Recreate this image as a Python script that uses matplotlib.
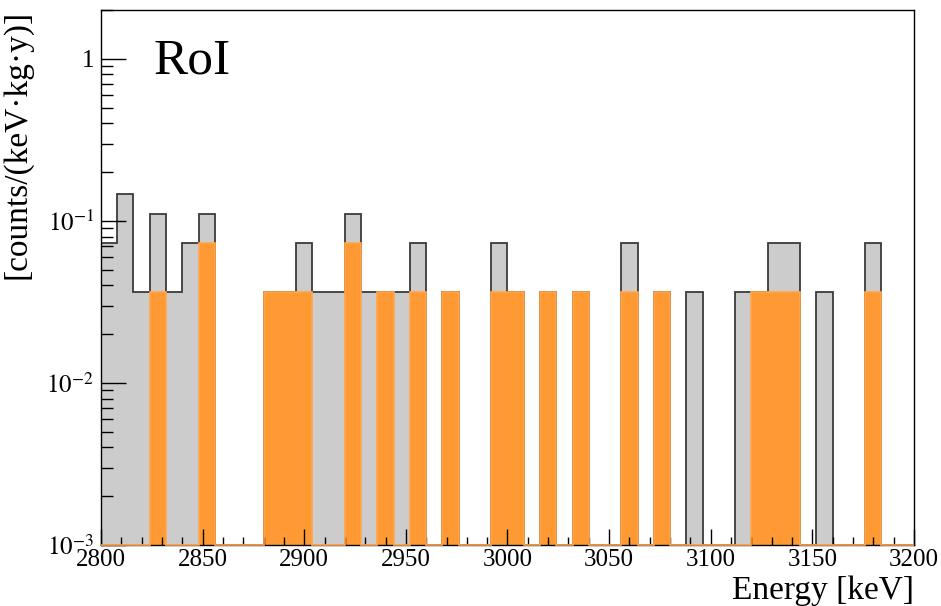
import numpy as np
import matplotlib
matplotlib.use("Agg")
import matplotlib.pyplot as plt
from matplotlib.ticker import FixedLocator, LogLocator, FuncFormatter, NullFormatter

plt.rcParams["font.family"] = ["Liberation Serif", "DejaVu Serif"]
plt.rcParams["mathtext.fontset"] = "stix"

# 8 keV bins over the region of interest
bin_edges = np.arange(2800, 3201, 8)
rate_per_count = 0.0366  # counts/(keV kg y) for a single event in a bin

# events per bin: all events (grey) and the selected subset (orange)
all_counts = [2, 4, 1, 3, 1, 2, 3, 0, 0, 0,
              1, 1, 2, 1, 1, 3, 1, 1, 1, 2,
              0, 1, 0, 0, 2, 1, 0, 1, 0, 1,
              0, 0, 2, 0, 1, 0, 1, 0, 0, 1,
              1, 2, 2, 0, 1, 0, 0, 2, 0, 0]
sel_counts = [0, 0, 0, 1, 0, 0, 2, 0, 0, 0,
              1, 1, 1, 0, 0, 2, 0, 1, 0, 1,
              0, 1, 0, 0, 1, 1, 0, 1, 0, 1,
              0, 0, 1, 0, 1, 0, 0, 0, 0, 0,
              1, 1, 1, 0, 0, 0, 0, 1, 0, 0]

ymin, ymax = 1e-3, 2.0

all_rate = np.array(all_counts) * rate_per_count
sel_rate = np.array(sel_counts) * rate_per_count
# empty bins sit on the floor of the log axis
all_draw = np.where(all_rate > 0, all_rate, ymin)
sel_draw = np.where(sel_rate > 0, sel_rate, ymin)

fig = plt.figure(figsize=(9.41, 6.06), dpi=100)
ax = fig.add_axes([0.1073, 0.1007, 0.8640, 0.8828])

ax.stairs(all_draw, bin_edges, baseline=ymin, fill=True, color="#cccccc", lw=0)
ax.stairs(all_draw, bin_edges, baseline=ymin, fill=False, color="#3a3a3a", lw=1.3)
ax.stairs(sel_draw, bin_edges, baseline=ymin, fill=True, color="#ff9933", lw=0)
# orange outline goes over the bottom spine, as in the ROOT drawing
ax.stairs(sel_draw, bin_edges, baseline=ymin, fill=False, color="#ffa54d",
          lw=1.2, zorder=3, clip_on=False)

ax.set_xlim(2800, 3200)
ax.set_yscale("log")
ax.set_ylim(ymin, ymax)

ax.xaxis.set_major_locator(FixedLocator(np.arange(2800, 3201, 50)))
ax.xaxis.set_minor_locator(FixedLocator(np.arange(2800, 3201, 10)))
ax.yaxis.set_major_locator(LogLocator(base=10, numticks=10))
ax.yaxis.set_minor_locator(LogLocator(base=10, subs=np.arange(2, 10), numticks=20))
ax.yaxis.set_minor_formatter(NullFormatter())


def log_label(v, pos):
    e = int(round(np.log10(v)))
    if e == 0:
        return "1"
    return r"$10^{%d}$" % e


ax.yaxis.set_major_formatter(FuncFormatter(log_label))

ax.tick_params(axis="both", which="both", direction="in", top=False, right=False,
               labelsize=18, width=1.0, color="black")
ax.tick_params(axis="x", which="major", length=11.5, pad=3)
ax.tick_params(axis="x", which="minor", length=5.8)
ax.tick_params(axis="y", which="major", length=18, pad=5)
ax.tick_params(axis="y", which="minor", length=8.6)

for s in ax.spines.values():
    s.set_linewidth(1.0)
    s.set_color("black")

ax.set_xlabel("Energy [keV]", fontsize=24, loc="right", labelpad=3)
ax.set_ylabel("[counts/(keV·kg·y)]", fontsize=24, loc="top", labelpad=10)

ax.text(0.065, 0.905, "RoI", transform=ax.transAxes, fontsize=37,
        ha="left", va="center")

fig.savefig("out.png", dpi=100)
